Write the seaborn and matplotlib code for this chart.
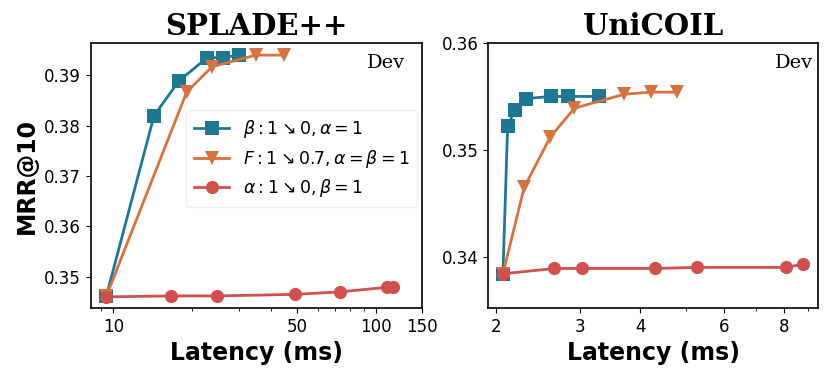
import numpy as np
import pandas as pd
import matplotlib
matplotlib.use("Agg")
import matplotlib.pyplot as plt
from matplotlib.ticker import NullFormatter
import seaborn as sns

# valores (latencia em ms, MRR@10)
splade_beta_x = [9.4, 14.3, 17.8, 22.8, 26.1, 30.1]
splade_beta_y = [0.3461, 0.3820, 0.3889, 0.3935, 0.3935, 0.3940]
splade_f_x = [9.4, 19.05, 23.8, 34.9, 44.7]
splade_f_y = [0.3461, 0.3867, 0.3917, 0.3940, 0.3940]
splade_alpha_x = [9.4, 16.6, 24.9, 49.1, 73.1, 110.1, 116.7]
splade_alpha_y = [0.3460, 0.3462, 0.3462, 0.3465, 0.3470, 0.3479, 0.3479]

unicoil_beta_x = [2.065, 2.112, 2.184, 2.310, 2.602, 2.823, 3.287]
unicoil_beta_y = [0.3384, 0.3522, 0.3537, 0.3548, 0.3550, 0.3550, 0.3550]
unicoil_f_x = [2.065, 2.288, 2.594, 2.914, 3.701, 4.208, 4.782]
unicoil_f_y = [0.3384, 0.3465, 0.3512, 0.3539, 0.3552, 0.3554, 0.3554]
unicoil_alpha_x = [2.065, 2.647, 3.028, 4.296, 5.250, 8.09, 8.76]
unicoil_alpha_y = [0.3384, 0.3389, 0.3389, 0.3389, 0.3390, 0.3390, 0.3393]

rotulos = [r"$\beta: 1 \searrow 0, \alpha=1$",
           r"$F: 1 \searrow 0.7, \alpha=\beta=1$",
           r"$\alpha: 1 \searrow 0, \beta=1$"]
cores = ["#1f7891", "#d4733f", "#d04f4f"]
marcadores = ["s", "v", "o"]

fig = plt.figure(figsize=(8.3, 3.8), dpi=100)
ax1 = fig.add_axes([0.1096, 0.1895, 0.3988, 0.6973])
ax2 = fig.add_axes([0.588, 0.1895, 0.3975, 0.6973])

series_splade = [(splade_beta_x, splade_beta_y), (splade_f_x, splade_f_y), (splade_alpha_x, splade_alpha_y)]
series_unicoil = [(unicoil_beta_x, unicoil_beta_y), (unicoil_f_x, unicoil_f_y), (unicoil_alpha_x, unicoil_alpha_y)]

for ax, series in [(ax1, series_splade), (ax2, series_unicoil)]:
    for (x, y), rot, cor, m in zip(series, rotulos, cores, marcadores):
        sns.lineplot(x=x, y=y, ax=ax, color=cor, marker=m, markersize=9.5,
                     markeredgewidth=0, linewidth=2, label=rot, sort=False,
                     estimator=None)

# eixo da esquerda
ax1.set_xscale("log")
ax1.set_xlim(8.22, 150)
ax1.set_xticks([10, 50, 100, 150], ["10", "50", "100", "150"])
ax1.xaxis.set_minor_formatter(NullFormatter())
ax1.set_ylim(0.3438, 0.3964)
ax1.set_yticks([0.35, 0.36, 0.37, 0.38, 0.39])
ax1.set_title("SPLADE++", fontsize=21, fontweight="bold", family="DejaVu Serif")
ax1.set_ylabel("MRR@10", fontsize=17, fontweight="bold")
ax1.set_xlabel("Latency (ms)", fontsize=17, fontweight="bold")
ax1.text(0.95, 0.96, "Dev", transform=ax1.transAxes, ha="right", va="top",
         fontsize=14, family="DejaVu Serif")
leg = ax1.legend(loc="upper left", bbox_to_anchor=(0.262, 0.78), fontsize=12.5,
                 handlelength=2.0, borderpad=0.45, labelspacing=0.45)
leg.get_frame().set_edgecolor("0.93")
leg.get_frame().set_alpha(0.95)

# eixo da direita
ax2.set_xscale("log")
ax2.set_xlim(1.922, 9.42)
ax2.set_xticks([2, 3, 4, 6, 8], ["2", "3", "4", "6", "8"])
ax2.xaxis.set_minor_formatter(NullFormatter())
ax2.set_ylim(0.3352, 0.36)
ax2.set_yticks([0.34, 0.35, 0.36])
ax2.set_title("UniCOIL", fontsize=21, fontweight="bold", family="DejaVu Serif")
ax2.set_xlabel("Latency (ms)", fontsize=17, fontweight="bold")
ax2.set_ylabel("")
ax2.text(0.985, 0.96, "Dev", transform=ax2.transAxes, ha="right", va="top",
         fontsize=14, family="DejaVu Serif")
ax2.get_legend().remove()

for ax in [ax1, ax2]:
    ax.tick_params(axis="both", which="major", labelsize=12)
    for s in ax.spines.values():
        s.set_linewidth(1.2)

fig.savefig("out.png", dpi=100)
